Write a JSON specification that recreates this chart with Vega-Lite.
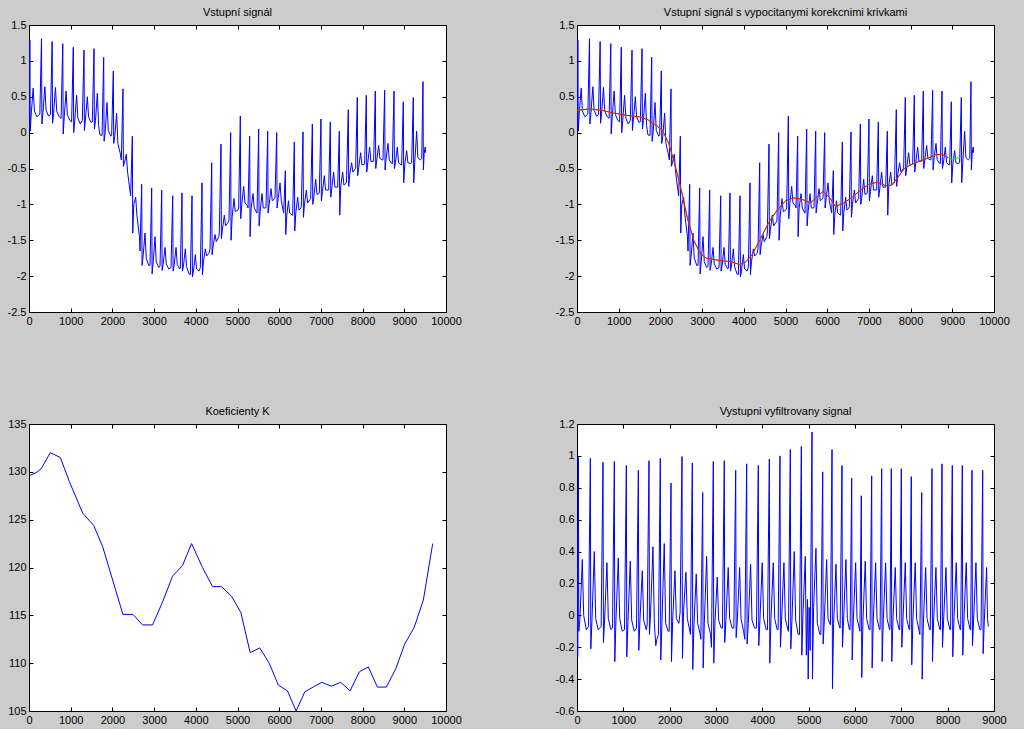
{
"$schema":"https://vega.github.io/schema/vega-lite/v6.json",
"background":"#cccccc",
"padding":{"left":6,"top":6,"right":16,"bottom":3},
"config":{
 "view":{"stroke":"#000000","strokeWidth":1,"fill":"#ffffff"},
 "axis":{"domain":false,"grid":false,"ticks":true,"tickSize":-4,"tickColor":"#000000","tickWidth":1,"labelPadding":7,"labelFont":"Liberation Sans","labelFontSize":11,"labelColor":"#000000","labelFlush":false,"labelOverlap":false,"labelExpr":"'' + datum.value"},
 "title":{"font":"Liberation Sans","fontSize":11,"fontWeight":"normal","color":"#000000","offset":1,"anchor":"middle"}
},
"datasets":{
"sig":[
{"x":0,"y":0.2},{"x":8,"y":0.05},{"x":20,"y":1.29},{"x":30,"y":0.02},{"x":55,"y":0.27},{"x":100,"y":0.62},{"x":130,"y":0.3},{"x":190,"y":0.22},
{"x":260,"y":0.26},{"x":300,"y":1.31},{"x":310,"y":0.12},{"x":335,"y":0.28},{"x":380,"y":0.64},{"x":410,"y":0.31},{"x":470,"y":0.23},
{"x":515,"y":0.25},{"x":555,"y":1.27},{"x":565,"y":0.13},{"x":590,"y":0.27},{"x":635,"y":0.63},{"x":665,"y":0.3},{"x":725,"y":0.22},
{"x":770,"y":0.2},{"x":810,"y":1.24},{"x":820,"y":-0.02},{"x":845,"y":0.22},{"x":890,"y":0.58},{"x":920,"y":0.25},{"x":980,"y":0.17},
{"x":1022,"y":0.15},{"x":1062,"y":1.19},{"x":1072,"y":0.0},{"x":1097,"y":0.17},{"x":1142,"y":0.52},{"x":1172,"y":0.2},{"x":1232,"y":0.12},
{"x":1279,"y":0.17},{"x":1319,"y":1.15},{"x":1329,"y":0.03},{"x":1354,"y":0.19},{"x":1399,"y":0.5},{"x":1429,"y":0.22},{"x":1489,"y":0.14},
{"x":1519,"y":0.15},{"x":1559,"y":1.17},{"x":1569,"y":0.05},{"x":1594,"y":0.17},{"x":1639,"y":0.55},{"x":1669,"y":0.1},{"x":1700,"y":-0.03},
{"x":1751,"y":-0.04},{"x":1791,"y":1.05},{"x":1801,"y":-0.12},{"x":1826,"y":0.0},{"x":1871,"y":0.42},{"x":1901,"y":0.03},{"x":1961,"y":-0.05},
{"x":1982,"y":-0.03},{"x":2022,"y":0.86},{"x":2032,"y":-0.15},{"x":2057,"y":-0.05},{"x":2102,"y":0.27},{"x":2132,"y":-0.15},{"x":2192,"y":-0.3},
{"x":2214,"y":-0.38},{"x":2254,"y":0.61},{"x":2264,"y":-0.47},{"x":2289,"y":-0.42},{"x":2334,"y":-0.3},{"x":2364,"y":-0.55},{"x":2424,"y":-0.82},
{"x":2438,"y":-0.88},{"x":2478,"y":-0.05},{"x":2488,"y":-1.4},{"x":2513,"y":-1.0},{"x":2558,"y":-0.9},{"x":2588,"y":-1.15},{"x":2648,"y":-1.45},
{"x":2662,"y":-1.65},{"x":2702,"y":-0.72},{"x":2712,"y":-1.85},{"x":2737,"y":-1.72},{"x":2782,"y":-1.4},{"x":2812,"y":-1.75},{"x":2872,"y":-1.85},
{"x":2902,"y":-1.85},{"x":2942,"y":-0.77},{"x":2952,"y":-1.97},{"x":2977,"y":-1.82},{"x":3022,"y":-1.45},{"x":3052,"y":-1.8},{"x":3112,"y":-1.88},
{"x":3142,"y":-1.86},{"x":3182,"y":-0.8},{"x":3192,"y":-1.92},{"x":3217,"y":-1.84},{"x":3262,"y":-1.6},{"x":3292,"y":-1.83},{"x":3352,"y":-1.9},
{"x":3406,"y":-1.88},{"x":3446,"y":-0.88},{"x":3456,"y":-1.93},{"x":3481,"y":-1.85},{"x":3526,"y":-1.6},{"x":3556,"y":-1.84},{"x":3616,"y":-1.9},
{"x":3629,"y":-1.89},{"x":3669,"y":-0.84},{"x":3679,"y":-1.93},{"x":3704,"y":-1.86},{"x":3749,"y":-1.62},{"x":3779,"y":-1.87},{"x":3839,"y":-1.97},
{"x":3869,"y":-1.98},{"x":3909,"y":-0.88},{"x":3919,"y":-2.01},{"x":3944,"y":-1.93},{"x":3989,"y":-1.7},{"x":4019,"y":-1.9},{"x":4079,"y":-1.93},
{"x":4109,"y":-1.88},{"x":4149,"y":-0.7},{"x":4159,"y":-1.98},{"x":4184,"y":-1.8},{"x":4229,"y":-1.62},{"x":4259,"y":-1.72},{"x":4319,"y":-1.68},
{"x":4341,"y":-1.62},{"x":4381,"y":-0.42},{"x":4391,"y":-1.7},{"x":4416,"y":-1.58},{"x":4461,"y":-1.42},{"x":4491,"y":-1.52},{"x":4551,"y":-1.45},
{"x":4564,"y":-1.4},{"x":4604,"y":-0.16},{"x":4614,"y":-1.48},{"x":4639,"y":-1.35},{"x":4684,"y":-1.15},{"x":4714,"y":-1.3},{"x":4774,"y":-1.25},
{"x":4796,"y":-1.22},{"x":4836,"y":0.0},{"x":4846,"y":-1.5},{"x":4871,"y":-1.18},{"x":4916,"y":-0.92},{"x":4946,"y":-1.1},{"x":5006,"y":-1.08},
{"x":5028,"y":-1.05},{"x":5068,"y":0.23},{"x":5078,"y":-1.2},{"x":5103,"y":-1.0},{"x":5148,"y":-0.75},{"x":5178,"y":-0.98},{"x":5238,"y":-1.02},
{"x":5252,"y":-1.05},{"x":5292,"y":-0.05},{"x":5302,"y":-1.45},{"x":5327,"y":-1.05},{"x":5372,"y":-0.85},{"x":5402,"y":-1.05},{"x":5462,"y":-1.12},
{"x":5468,"y":-1.12},{"x":5508,"y":0.05},{"x":5518,"y":-1.3},{"x":5543,"y":-1.1},{"x":5588,"y":-0.85},{"x":5618,"y":-1.05},{"x":5678,"y":-1.05},
{"x":5684,"y":-1.03},{"x":5724,"y":0.02},{"x":5734,"y":-1.12},{"x":5759,"y":-1.0},{"x":5804,"y":-0.78},{"x":5834,"y":-0.95},{"x":5894,"y":-0.92},
{"x":5900,"y":-0.9},{"x":5940,"y":0.0},{"x":5950,"y":-1.05},{"x":5975,"y":-0.92},{"x":6020,"y":-0.7},{"x":6050,"y":-0.95},{"x":6100,"y":-1.1},
{"x":6107,"y":-1.12},{"x":6147,"y":-0.53},{"x":6157,"y":-1.42},{"x":6182,"y":-1.15},{"x":6222,"y":-0.95},{"x":6252,"y":-1.12},{"x":6312,"y":-1.15},
{"x":6323,"y":-1.15},{"x":6363,"y":-0.13},{"x":6373,"y":-1.37},{"x":6398,"y":-1.12},{"x":6443,"y":-0.9},{"x":6473,"y":-1.08},{"x":6520,"y":-1.05},
{"x":6531,"y":-1.03},{"x":6571,"y":0.01},{"x":6581,"y":-1.18},{"x":6606,"y":-1.0},{"x":6651,"y":-0.8},{"x":6681,"y":-0.98},{"x":6741,"y":-0.93},
{"x":6755,"y":-0.92},{"x":6795,"y":0.12},{"x":6805,"y":-1.0},{"x":6830,"y":-0.9},{"x":6875,"y":-0.65},{"x":6905,"y":-0.86},{"x":6950,"y":-0.85},
{"x":6962,"y":-0.84},{"x":7002,"y":0.19},{"x":7012,"y":-0.95},{"x":7037,"y":-0.82},{"x":7082,"y":-0.6},{"x":7112,"y":-0.8},{"x":7172,"y":-0.8},
{"x":7186,"y":-0.8},{"x":7226,"y":0.15},{"x":7236,"y":-0.9},{"x":7261,"y":-0.78},{"x":7306,"y":-0.55},{"x":7336,"y":-0.76},{"x":7396,"y":-0.76},
{"x":7402,"y":-0.76},{"x":7442,"y":0.02},{"x":7452,"y":-1.15},{"x":7477,"y":-0.74},{"x":7522,"y":-0.55},{"x":7552,"y":-0.73},{"x":7612,"y":-0.7},
{"x":7617,"y":-0.6},{"x":7657,"y":0.32},{"x":7667,"y":-0.75},{"x":7692,"y":-0.58},{"x":7737,"y":-0.42},{"x":7767,"y":-0.55},{"x":7827,"y":-0.5},
{"x":7833,"y":-0.5},{"x":7873,"y":0.49},{"x":7883,"y":-0.6},{"x":7908,"y":-0.48},{"x":7953,"y":-0.28},{"x":7983,"y":-0.45},{"x":8043,"y":-0.44},
{"x":8049,"y":-0.44},{"x":8089,"y":0.52},{"x":8099,"y":-0.55},{"x":8124,"y":-0.42},{"x":8169,"y":-0.2},{"x":8199,"y":-0.4},{"x":8259,"y":-0.4},
{"x":8265,"y":-0.4},{"x":8305,"y":0.58},{"x":8315,"y":-0.5},{"x":8340,"y":-0.38},{"x":8385,"y":-0.18},{"x":8415,"y":-0.36},{"x":8475,"y":-0.38},
{"x":8489,"y":-0.38},{"x":8529,"y":0.59},{"x":8539,"y":-0.52},{"x":8564,"y":-0.36},{"x":8609,"y":-0.15},{"x":8639,"y":-0.38},{"x":8699,"y":-0.43},
{"x":8713,"y":-0.43},{"x":8753,"y":0.58},{"x":8763,"y":-0.5},{"x":8788,"y":-0.42},{"x":8833,"y":-0.2},{"x":8863,"y":-0.42},{"x":8923,"y":-0.45},
{"x":8936,"y":-0.45},{"x":8976,"y":0.43},{"x":8986,"y":-0.7},{"x":9011,"y":-0.45},{"x":9056,"y":-0.25},{"x":9086,"y":-0.42},{"x":9146,"y":-0.43},
{"x":9176,"y":-0.42},{"x":9216,"y":0.49},{"x":9226,"y":-0.7},{"x":9251,"y":-0.42},{"x":9296,"y":0.02},{"x":9326,"y":-0.35},{"x":9386,"y":-0.38},
{"x":9418,"y":-0.36},{"x":9448,"y":0.71},{"x":9458,"y":-0.52},{"x":9475,"y":-0.3},{"x":9500,"y":-0.2},{"x":9510,"y":-0.28}
],
"corr":[
{"x":0,"y":0.31,"c":"g"},{"x":300,"y":0.33,"c":"g"},{"x":600,"y":0.31,"c":"g"},{"x":900,"y":0.27,"c":"g"},{"x":1200,"y":0.24,"c":"g"},{"x":1500,"y":0.22,"c":"g"},{"x":1700,"y":0.18,"c":"g"},{"x":1900,"y":0.1,"c":"g"},{"x":2050,"y":0.03,"c":"g"},{"x":2200,"y":-0.15,"c":"g"},{"x":2350,"y":-0.45,"c":"g"},{"x":2500,"y":-0.8,"c":"g"},{"x":2650,"y":-1.2,"c":"g"},{"x":2800,"y":-1.5,"c":"g"},{"x":2950,"y":-1.68,"c":"g"},{"x":3100,"y":-1.75,"c":"g"},{"x":3400,"y":-1.78,"c":"g"},{"x":3700,"y":-1.8,"c":"g"},{"x":3900,"y":-1.84,"c":"g"},{"x":4050,"y":-1.8,"c":"g"},{"x":4200,"y":-1.7,"c":"g"},{"x":4400,"y":-1.48,"c":"g"},{"x":4600,"y":-1.25,"c":"g"},{"x":4800,"y":-1.08,"c":"g"},{"x":5000,"y":-0.95,"c":"g"},{"x":5200,"y":-0.91,"c":"g"},{"x":5400,"y":-0.93,"c":"g"},{"x":5600,"y":-0.98,"c":"g"},{"x":5800,"y":-0.87,"c":"g"},{"x":5900,"y":-0.82,"c":"g"},{"x":6050,"y":-0.9,"c":"g"},{"x":6200,"y":-1.03,"c":"g"},{"x":6400,"y":-0.98,"c":"g"},{"x":6600,"y":-0.9,"c":"g"},{"x":6800,"y":-0.8,"c":"g"},{"x":7000,"y":-0.72,"c":"g"},{"x":7200,"y":-0.69,"c":"g"},{"x":7400,"y":-0.74,"c":"g"},{"x":7550,"y":-0.73,"c":"g"},{"x":7700,"y":-0.62,"c":"g"},{"x":7850,"y":-0.5,"c":"g"},{"x":8000,"y":-0.45,"c":"g"},{"x":8200,"y":-0.4,"c":"g"},{"x":8400,"y":-0.36,"c":"g"},{"x":8600,"y":-0.31,"c":"g"},{"x":8750,"y":-0.3,"c":"g"},{"x":8900,"y":-0.35,"c":"g"},{"x":9000,"y":-0.37,"c":"g"},{"x":9100,"y":-0.36,"c":"g"},{"x":9200,"y":-0.34,"c":"g"},
{"x":0,"y":0.31,"c":"r"},{"x":300,"y":0.33,"c":"r"},{"x":600,"y":0.31,"c":"r"},{"x":900,"y":0.27,"c":"r"},{"x":1200,"y":0.24,"c":"r"},{"x":1500,"y":0.22,"c":"r"},{"x":1700,"y":0.18,"c":"r"},{"x":1900,"y":0.1,"c":"r"},{"x":2050,"y":0.03,"c":"r"},{"x":2200,"y":-0.15,"c":"r"},{"x":2350,"y":-0.45,"c":"r"},{"x":2500,"y":-0.8,"c":"r"},{"x":2650,"y":-1.2,"c":"r"},{"x":2800,"y":-1.5,"c":"r"},{"x":2950,"y":-1.68,"c":"r"},{"x":3100,"y":-1.75,"c":"r"},{"x":3400,"y":-1.78,"c":"r"},{"x":3700,"y":-1.8,"c":"r"},{"x":3900,"y":-1.84,"c":"r"},{"x":4050,"y":-1.8,"c":"r"},{"x":4200,"y":-1.7,"c":"r"},{"x":4400,"y":-1.48,"c":"r"},{"x":4600,"y":-1.25,"c":"r"},{"x":4800,"y":-1.08,"c":"r"},{"x":5000,"y":-0.95,"c":"r"},{"x":5200,"y":-0.91,"c":"r"},{"x":5400,"y":-0.93,"c":"r"},{"x":5600,"y":-0.98,"c":"r"},{"x":5800,"y":-0.87,"c":"r"},{"x":5900,"y":-0.82,"c":"r"},{"x":6050,"y":-0.9,"c":"r"},{"x":6200,"y":-1.03,"c":"r"},{"x":6400,"y":-0.98,"c":"r"},{"x":6600,"y":-0.9,"c":"r"},{"x":6800,"y":-0.8,"c":"r"},{"x":7000,"y":-0.72,"c":"r"},{"x":7200,"y":-0.69,"c":"r"},{"x":7400,"y":-0.74,"c":"r"},{"x":7550,"y":-0.73,"c":"r"},{"x":7700,"y":-0.62,"c":"r"},{"x":7850,"y":-0.5,"c":"r"},{"x":8000,"y":-0.45,"c":"r"},{"x":8200,"y":-0.4,"c":"r"},{"x":8400,"y":-0.36,"c":"r"},{"x":8600,"y":-0.31,"c":"r"},{"x":8750,"y":-0.3,"c":"r"},{"x":8900,"y":-0.35,"c":"r"}
],
"k":[
{"x":0,"y":129.6},{"x":168,"y":129.9},{"x":288,"y":130.3},{"x":511,"y":132.0},{"x":751,"y":131.5},{"x":966,"y":129.0},{"x":1286,"y":125.7},{"x":1550,"y":124.4},{"x":1765,"y":122.2},{"x":2252,"y":115.1},{"x":2492,"y":115.1},{"x":2724,"y":114.0},{"x":2963,"y":114.0},{"x":3203,"y":116.4},{"x":3443,"y":119.1},{"x":3682,"y":120.2},{"x":3898,"y":122.5},{"x":4161,"y":120.0},{"x":4401,"y":118.0},{"x":4617,"y":118.0},{"x":4856,"y":117.0},{"x":5080,"y":115.3},{"x":5304,"y":111.1},{"x":5535,"y":111.6},{"x":5759,"y":110.0},{"x":5982,"y":107.7},{"x":6198,"y":107.1},{"x":6406,"y":105.0},{"x":6613,"y":107.0},{"x":6853,"y":107.6},{"x":7021,"y":108.0},{"x":7252,"y":107.6},{"x":7476,"y":108.0},{"x":7700,"y":107.1},{"x":7923,"y":109.1},{"x":8139,"y":109.6},{"x":8355,"y":107.5},{"x":8570,"y":107.5},{"x":8794,"y":109.4},{"x":9010,"y":112.0},{"x":9233,"y":113.7},{"x":9457,"y":116.6},{"x":9681,"y":122.5}
],
"filt":[
{"x":0,"y":-0.1},{"x":8,"y":0.53},{"x":15,"y":-0.26},{"x":29,"y":0.99},{"x":39,"y":-0.1},{"x":64,"y":-0.02},{"x":114,"y":0.35},{"x":144,"y":0.0},{"x":200,"y":-0.09},
{"x":248,"y":-0.07},{"x":288,"y":0.985},{"x":298,"y":-0.21},{"x":323,"y":-0.03},{"x":373,"y":0.4},{"x":403,"y":-0.02},{"x":458,"y":-0.09},
{"x":521,"y":-0.07},{"x":561,"y":0.96},{"x":571,"y":-0.17},{"x":596,"y":-0.03},{"x":646,"y":0.33},{"x":676,"y":-0.02},{"x":731,"y":-0.09},
{"x":766,"y":-0.08},{"x":806,"y":0.965},{"x":816,"y":-0.29},{"x":841,"y":-0.03},{"x":891,"y":0.36},{"x":921,"y":-0.02},{"x":976,"y":-0.1},
{"x":1025,"y":-0.09},{"x":1065,"y":0.94},{"x":1075,"y":-0.26},{"x":1100,"y":-0.04},{"x":1150,"y":0.34},{"x":1180,"y":-0.03},{"x":1235,"y":-0.1},
{"x":1284,"y":-0.08},{"x":1324,"y":0.91},{"x":1334,"y":-0.22},{"x":1359,"y":-0.03},{"x":1409,"y":0.28},{"x":1439,"y":-0.03},{"x":1494,"y":-0.09},
{"x":1514,"y":-0.06},{"x":1554,"y":0.97},{"x":1564,"y":-0.12},{"x":1589,"y":0.02},{"x":1639,"y":0.43},{"x":1669,"y":-0.05},{"x":1700,"y":-0.19},{"x":1724,"y":-0.15},
{"x":1758,"y":-0.12},{"x":1798,"y":0.985},{"x":1808,"y":-0.28},{"x":1833,"y":-0.05},{"x":1883,"y":0.45},{"x":1913,"y":-0.05},{"x":1968,"y":-0.1},
{"x":1989,"y":-0.1},{"x":2029,"y":0.83},{"x":2039,"y":-0.29},{"x":2064,"y":-0.04},{"x":2114,"y":0.28},{"x":2144,"y":-0.02},{"x":2199,"y":-0.05},
{"x":2226,"y":0.02},{"x":2266,"y":0.996},{"x":2276,"y":-0.27},{"x":2301,"y":0.03},{"x":2351,"y":0.27},{"x":2381,"y":-0.02},{"x":2436,"y":-0.1},
{"x":2449,"y":-0.12},{"x":2489,"y":0.955},{"x":2499,"y":-0.34},{"x":2524,"y":-0.06},{"x":2574,"y":0.26},{"x":2604,"y":-0.05},{"x":2659,"y":-0.12},
{"x":2673,"y":-0.15},{"x":2713,"y":0.77},{"x":2723,"y":-0.33},{"x":2748,"y":-0.05},{"x":2798,"y":0.37},{"x":2828,"y":-0.05},{"x":2883,"y":-0.12},
{"x":2902,"y":-0.2},{"x":2942,"y":0.965},{"x":2952,"y":-0.3},{"x":2977,"y":-0.05},{"x":3027,"y":0.24},{"x":3057,"y":-0.03},{"x":3112,"y":-0.08},
{"x":3139,"y":-0.08},{"x":3179,"y":0.97},{"x":3189,"y":-0.17},{"x":3214,"y":-0.03},{"x":3264,"y":0.3},{"x":3294,"y":-0.02},{"x":3349,"y":-0.08},
{"x":3385,"y":-0.08},{"x":3425,"y":0.91},{"x":3435,"y":-0.14},{"x":3460,"y":-0.03},{"x":3510,"y":0.3},{"x":3540,"y":-0.02},{"x":3595,"y":-0.1},
{"x":3622,"y":-0.15},{"x":3662,"y":0.95},{"x":3672,"y":-0.18},{"x":3697,"y":-0.05},{"x":3747,"y":0.32},{"x":3777,"y":-0.03},{"x":3832,"y":-0.08},
{"x":3873,"y":-0.08},{"x":3913,"y":0.94},{"x":3923,"y":-0.19},{"x":3948,"y":-0.03},{"x":3998,"y":0.33},{"x":4028,"y":-0.02},{"x":4083,"y":-0.09},
{"x":4111,"y":-0.09},{"x":4151,"y":0.98},{"x":4161,"y":-0.3},{"x":4186,"y":-0.03},{"x":4236,"y":0.33},{"x":4266,"y":-0.02},{"x":4321,"y":-0.09},
{"x":4341,"y":-0.09},{"x":4381,"y":1.0},{"x":4391,"y":-0.2},{"x":4416,"y":-0.03},{"x":4466,"y":0.33},{"x":4496,"y":-0.02},{"x":4551,"y":-0.09},
{"x":4564,"y":-0.1},{"x":4604,"y":1.04},{"x":4614,"y":-0.21},{"x":4639,"y":-0.03},{"x":4689,"y":0.4},{"x":4719,"y":-0.03},{"x":4774,"y":-0.12},
{"x":4802,"y":-0.12},{"x":4842,"y":1.06},{"x":4852,"y":-0.25},{"x":4877,"y":0.0},{"x":4927,"y":0.37},{"x":4950,"y":-0.25},{"x":4975,"y":0.1},{"x":4990,"y":-0.4},{"x":5010,"y":0.05},{"x":5032,"y":-0.22},
{"x":5050,"y":0.4},{"x":5072,"y":1.15},{"x":5082,"y":-0.4},{"x":5107,"y":0.05},{"x":5157,"y":0.42},{"x":5187,"y":-0.05},{"x":5242,"y":-0.12},
{"x":5263,"y":-0.12},{"x":5303,"y":0.9},{"x":5313,"y":-0.18},{"x":5338,"y":-0.03},{"x":5388,"y":0.35},{"x":5418,"y":-0.02},{"x":5450,"y":-0.05},
{"x":5470,"y":-0.06},{"x":5504,"y":1.04},{"x":5514,"y":-0.46},{"x":5539,"y":-0.05},{"x":5589,"y":0.32},{"x":5619,"y":-0.02},{"x":5674,"y":-0.08},
{"x":5679,"y":-0.08},{"x":5719,"y":0.94},{"x":5729,"y":-0.2},{"x":5754,"y":-0.03},{"x":5804,"y":0.35},{"x":5834,"y":-0.02},{"x":5879,"y":-0.09},
{"x":5894,"y":-0.09},{"x":5929,"y":0.86},{"x":5939,"y":-0.28},{"x":5964,"y":-0.03},{"x":6014,"y":0.33},{"x":6044,"y":-0.02},{"x":6099,"y":-0.09},
{"x":6106,"y":-0.1},{"x":6136,"y":0.75},{"x":6146,"y":-0.39},{"x":6171,"y":-0.04},{"x":6221,"y":0.34},{"x":6251,"y":-0.02},{"x":6306,"y":-0.09},
{"x":6325,"y":-0.09},{"x":6360,"y":0.875},{"x":6370,"y":-0.33},{"x":6395,"y":-0.03},{"x":6445,"y":0.33},{"x":6475,"y":-0.02},{"x":6530,"y":-0.09},
{"x":6541,"y":-0.09},{"x":6576,"y":0.92},{"x":6586,"y":-0.29},{"x":6611,"y":-0.03},{"x":6661,"y":0.33},{"x":6691,"y":-0.02},{"x":6746,"y":-0.09},
{"x":6754,"y":-0.09},{"x":6784,"y":0.92},{"x":6794,"y":-0.29},{"x":6819,"y":-0.03},{"x":6869,"y":0.3},{"x":6899,"y":-0.02},{"x":6954,"y":-0.09},
{"x":6965,"y":-0.09},{"x":7000,"y":0.92},{"x":7010,"y":-0.2},{"x":7035,"y":-0.03},{"x":7085,"y":0.33},{"x":7115,"y":-0.02},{"x":7170,"y":-0.09},
{"x":7180,"y":-0.09},{"x":7215,"y":0.87},{"x":7225,"y":-0.31},{"x":7250,"y":-0.03},{"x":7300,"y":0.33},{"x":7330,"y":-0.02},{"x":7385,"y":-0.1},
{"x":7400,"y":-0.12},{"x":7440,"y":0.77},{"x":7450,"y":-0.4},{"x":7475,"y":-0.05},{"x":7525,"y":0.3},{"x":7555,"y":-0.02},{"x":7610,"y":-0.09},
{"x":7625,"y":-0.09},{"x":7662,"y":0.92},{"x":7672,"y":-0.29},{"x":7697,"y":-0.03},{"x":7747,"y":0.3},{"x":7777,"y":-0.02},{"x":7832,"y":-0.09},
{"x":7843,"y":-0.09},{"x":7878,"y":0.95},{"x":7888,"y":-0.2},{"x":7913,"y":-0.03},{"x":7963,"y":0.3},{"x":7993,"y":-0.02},{"x":8048,"y":-0.09},
{"x":8063,"y":-0.09},{"x":8100,"y":0.94},{"x":8110,"y":-0.26},{"x":8135,"y":-0.03},{"x":8185,"y":0.33},{"x":8215,"y":-0.02},{"x":8270,"y":-0.09},
{"x":8281,"y":-0.09},{"x":8316,"y":0.94},{"x":8326,"y":-0.25},{"x":8351,"y":-0.03},{"x":8401,"y":0.33},{"x":8431,"y":-0.02},{"x":8486,"y":-0.09},
{"x":8496,"y":-0.09},{"x":8525,"y":0.91},{"x":8535,"y":-0.19},{"x":8560,"y":-0.03},{"x":8610,"y":0.33},{"x":8640,"y":-0.02},{"x":8695,"y":-0.09},
{"x":8720,"y":-0.09},{"x":8756,"y":0.91},{"x":8766,"y":-0.24},{"x":8791,"y":-0.03},{"x":8841,"y":0.3},{"x":8860,"y":-0.02},{"x":8878,"y":-0.07}
]
},
"columns":2,
"spacing":{"row":112,"column":131},
"bounds":"flush",
"concat":[
 {"width":417,"height":287,"title":"Vstupní signál",
  "layer":[
   {"data":{"name":"sig"},"mark":{"type":"line","color":"#0000ff","strokeWidth":1,"clip":true},
    "encoding":{
     "x":{"field":"x","type":"quantitative","scale":{"domain":[0,10000],"nice":false,"zero":false},"axis":{"orient":"bottom","title":null,"values":[0,1000,2000,3000,4000,5000,6000,7000,8000,9000,10000]}},
     "y":{"field":"y","type":"quantitative","scale":{"domain":[-2.5,1.5],"nice":false,"zero":false},"axis":{"orient":"left","title":null,"values":[-2.5,-2,-1.5,-1,-0.5,0,0.5,1,1.5]}}}},
   {"data":{"name":"sig"},"mark":{"type":"line","opacity":0},
    "encoding":{
     "x":{"field":"x","type":"quantitative","axis":{"orient":"top","title":null,"labels":false,"values":[0,1000,2000,3000,4000,5000,6000,7000,8000,9000,10000]}},
     "y":{"field":"y","type":"quantitative","axis":{"orient":"right","title":null,"labels":false,"values":[-2.5,-2,-1.5,-1,-0.5,0,0.5,1,1.5]}}}}
  ],
  "resolve":{"axis":{"x":"independent","y":"independent"}}},
 {"width":417,"height":287,"title":"Vstupní signál s vypocitanymi korekcnimi krivkami",
  "layer":[
   {"data":{"name":"sig"},"mark":{"type":"line","color":"#0000ff","strokeWidth":1,"clip":true},
    "encoding":{
     "x":{"field":"x","type":"quantitative","scale":{"domain":[0,10000],"nice":false,"zero":false},"axis":{"orient":"bottom","title":null,"values":[0,1000,2000,3000,4000,5000,6000,7000,8000,9000,10000]}},
     "y":{"field":"y","type":"quantitative","scale":{"domain":[-2.5,1.5],"nice":false,"zero":false},"axis":{"orient":"left","title":null,"values":[-2.5,-2,-1.5,-1,-0.5,0,0.5,1,1.5]}}}},
   {"data":{"name":"corr"},"transform":[{"filter":"datum.c == 'g'"}],"mark":{"type":"line","color":"#22dd22","strokeWidth":1,"clip":true},
    "encoding":{"x":{"field":"x","type":"quantitative","axis":null},"y":{"field":"y","type":"quantitative","axis":null}}},
   {"data":{"name":"corr"},"transform":[{"filter":"datum.c == 'r'"}],"mark":{"type":"line","color":"#ff0000","strokeWidth":1,"clip":true},
    "encoding":{"x":{"field":"x","type":"quantitative","axis":null},"y":{"field":"y","type":"quantitative","axis":null}}},
   {"data":{"name":"sig"},"mark":{"type":"line","opacity":0},
    "encoding":{
     "x":{"field":"x","type":"quantitative","axis":{"orient":"top","title":null,"labels":false,"values":[0,1000,2000,3000,4000,5000,6000,7000,8000,9000,10000]}},
     "y":{"field":"y","type":"quantitative","axis":{"orient":"right","title":null,"labels":false,"values":[-2.5,-2,-1.5,-1,-0.5,0,0.5,1,1.5]}}}}
  ],
  "resolve":{"axis":{"x":"independent","y":"independent"}}},
 {"width":417,"height":287,"title":"Koeficienty K",
  "layer":[
   {"data":{"name":"k"},"mark":{"type":"line","color":"#0000ff","strokeWidth":1,"clip":true},
    "encoding":{
     "x":{"field":"x","type":"quantitative","scale":{"domain":[0,10000],"nice":false,"zero":false},"axis":{"orient":"bottom","title":null,"values":[0,1000,2000,3000,4000,5000,6000,7000,8000,9000,10000]}},
     "y":{"field":"y","type":"quantitative","scale":{"domain":[105,135],"nice":false,"zero":false},"axis":{"orient":"left","title":null,"values":[105,110,115,120,125,130,135]}}}},
   {"data":{"name":"k"},"mark":{"type":"line","opacity":0},
    "encoding":{
     "x":{"field":"x","type":"quantitative","axis":{"orient":"top","title":null,"labels":false,"values":[0,1000,2000,3000,4000,5000,6000,7000,8000,9000,10000]}},
     "y":{"field":"y","type":"quantitative","axis":{"orient":"right","title":null,"labels":false,"values":[105,110,115,120,125,130,135]}}}}
  ],
  "resolve":{"axis":{"x":"independent","y":"independent"}}},
 {"width":417,"height":287,"title":"Vystupni vyfiltrovany signal",
  "layer":[
   {"data":{"name":"filt"},"mark":{"type":"line","color":"#0000ff","strokeWidth":1,"clip":true},
    "encoding":{
     "x":{"field":"x","type":"quantitative","scale":{"domain":[0,9000],"nice":false,"zero":false},"axis":{"orient":"bottom","title":null,"values":[0,1000,2000,3000,4000,5000,6000,7000,8000,9000]}},
     "y":{"field":"y","type":"quantitative","scale":{"domain":[-0.6,1.2],"nice":false,"zero":false},"axis":{"orient":"left","title":null,"values":[-0.6,-0.4,-0.2,0,0.2,0.4,0.6,0.8,1,1.2]}}}},
   {"data":{"name":"filt"},"mark":{"type":"line","opacity":0},
    "encoding":{
     "x":{"field":"x","type":"quantitative","axis":{"orient":"top","title":null,"labels":false,"values":[0,1000,2000,3000,4000,5000,6000,7000,8000,9000]}},
     "y":{"field":"y","type":"quantitative","axis":{"orient":"right","title":null,"labels":false,"values":[-0.6,-0.4,-0.2,0,0.2,0.4,0.6,0.8,1,1.2]}}}}
  ],
  "resolve":{"axis":{"x":"independent","y":"independent"}}}
]
}
